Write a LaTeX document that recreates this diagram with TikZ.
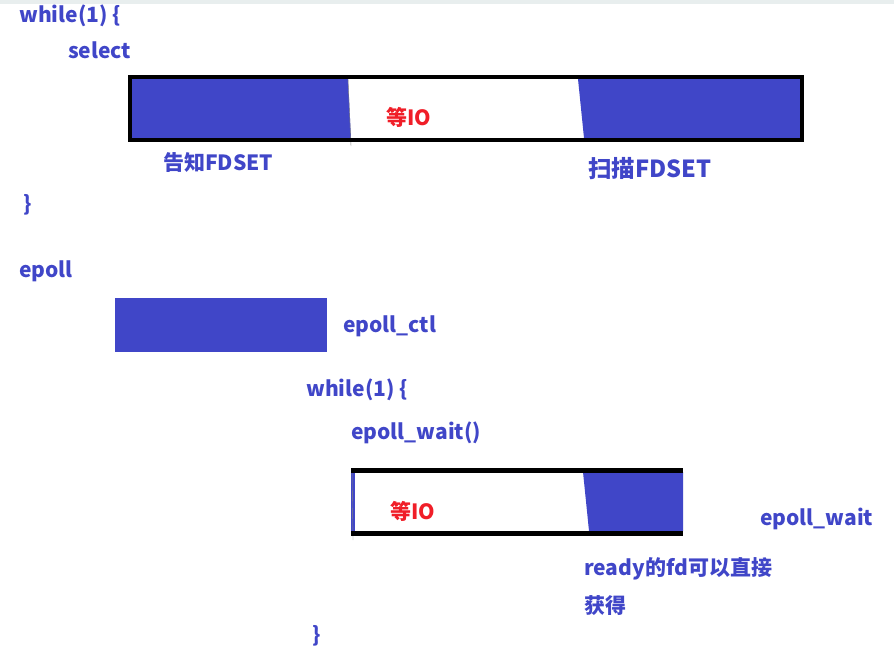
\documentclass[tikz,border=0pt]{standalone}
\usepackage{fontspec}
\setmainfont{Noto Sans CJK SC}
\definecolor{fdblue}{RGB}{64,70,200}
\definecolor{iored}{RGB}{240,30,40}
\definecolor{topgray}{RGB}{232,238,238}
\begin{document}
\begin{tikzpicture}[x=1pt,y=-1pt,
  txt/.style={anchor=west,inner sep=0pt,text=fdblue,font=\fontsize{21}{24}\selectfont\bfseries},
  waitio/.style={anchor=west,inner sep=0pt,text=iored,font=\fontsize{21}{24}\selectfont\bfseries}]
\useasboundingbox (0,0) rectangle (894,654);
\fill[topgray] (0,0) rectangle (894,4);

% select
\node[txt] (sel-while) at (19,16) {while(1) \{};
\node[txt] (sel-call) at (68,50) {select};
\fill[fdblue] (132,79) -- (348,79) -- (351,138) -- (132,138) -- cycle;
\fill[fdblue] (578,79) -- (800,79) -- (800,138) -- (584,138) -- cycle;
\draw[gray,thin] (348,79) -- (351,146);
\draw[line width=4pt] (130,77) rectangle (802,140);
\node[waitio] (sel-io) at (386,117) {等IO};
\node[txt] (sel-tell) at (163,163) {告知FDSET};
\node[txt,font=\fontsize{23.5}{26}\selectfont\bfseries] (sel-scan) at (588,169) {扫描FDSET};
\node[txt] (sel-end) at (23,205) {\}};

% epoll
\node[txt] (ep) at (19,271) {epoll};
\fill[fdblue] (115,298) rectangle (327,352);
\node[txt] (ep-ctl) at (343,326) {epoll\_ctl};
\node[txt] (ep-while) at (306,390) {while(1) \{};
\node[txt] (ep-wait) at (351,433) {epoll\_wait()};
\fill[fdblue] (351,472) rectangle (355,531);
\fill[fdblue] (583,472) -- (683,472) -- (683,531) -- (589,531) -- cycle;
\draw[gray,thin] (352,470) -- (353,540);
\fill (351,468) rectangle (683,473);
\fill (351,531) rectangle (683,536);
\node[waitio] (ep-io) at (390,511) {等IO};
\node[txt] (ep-wait2) at (760,519) {epoll\_wait};
\node[txt] (ep-ready) at (584,569) {ready的fd可以直接};
\node[txt] (ep-get) at (584,606) {获得};
\node[txt] (ep-end) at (312,636) {\}};
\end{tikzpicture}
\end{document}
